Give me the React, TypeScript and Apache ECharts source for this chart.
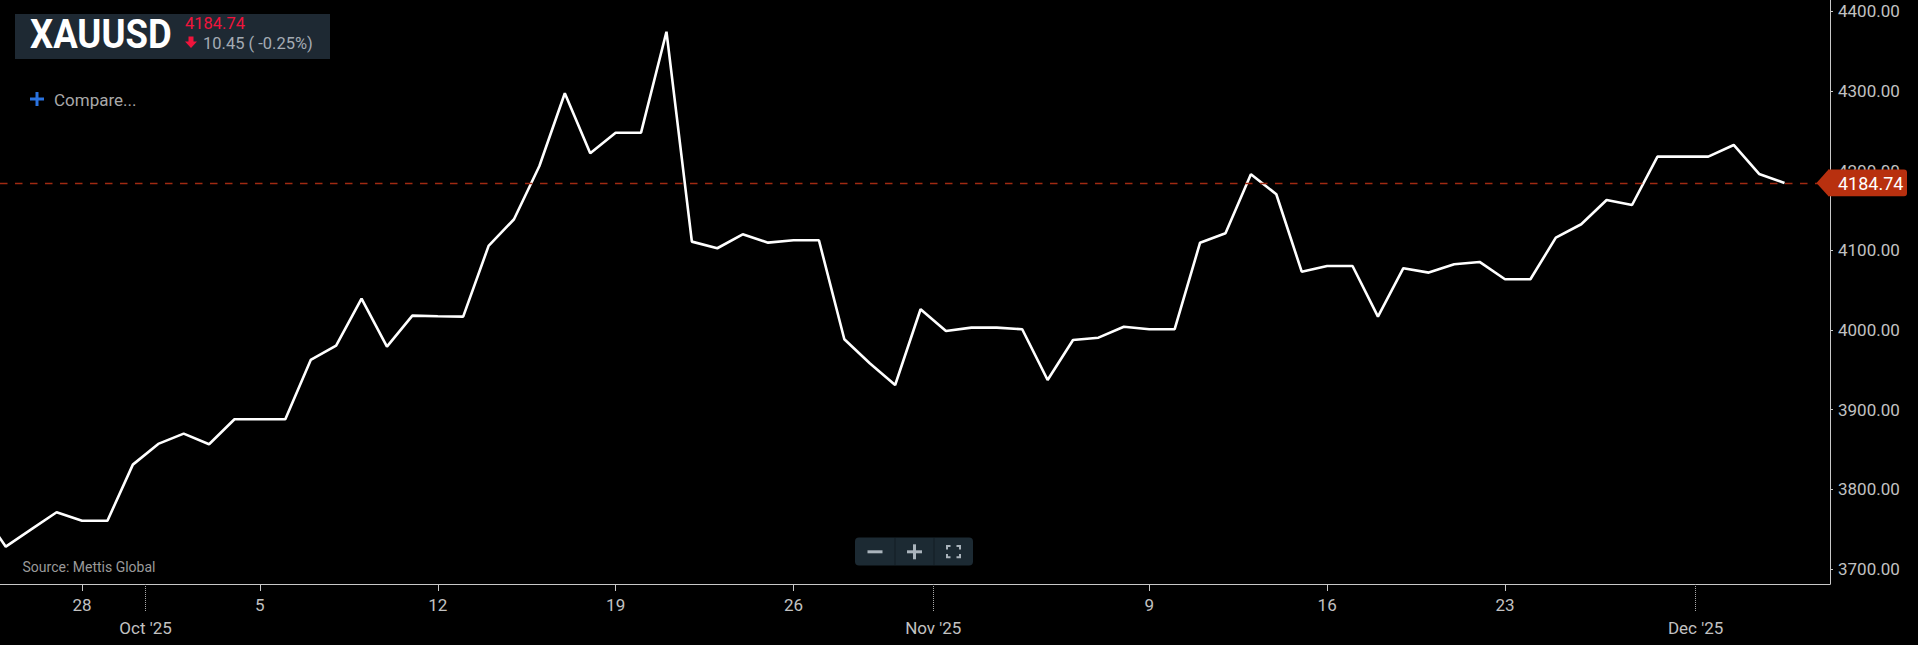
import React, { useEffect, useRef } from "react";
import * as echarts from "echarts";

// ---- data (calendar days; index 0 = 26 Sep 2025, first two points precede it) ----
const FIRST_INDEX = -2;
const closeValues: number[] = [
  3774.1, 3728.0, 3749.6, 3771.2, 3760.6, 3760.6, 3831.0, 3857.0, 3869.9, 3856.6,
  3888.0, 3888.0, 3888.0, 3962.4, 3980.4, 4039.4, 3979.1, 4018.1, 4017.3, 4016.8,
  4105.6, 4139.1, 4206.0, 4297.3, 4222.0, 4247.8, 4247.8, 4374.6, 4111.0, 4102.7,
  4120.2, 4109.7, 4112.7, 4112.7, 3988.4, 3958.3, 3931.0, 4026.1, 3998.8, 4003.0,
  4003.0, 4001.0, 3937.3, 3987.5, 3990.4, 4004.2, 4001.0, 4001.0, 4109.7, 4121.5,
  4195.6, 4170.5, 4073.3, 4080.4, 4080.4, 4016.8, 4077.6, 4072.1, 4082.6, 4085.5,
  4063.7, 4063.7, 4116.0, 4132.8, 4163.3, 4157.0, 4217.7, 4217.7, 4217.7, 4232.4,
  4196.0, 4184.74,
];
const weekTickIdx: number[] = [2, 9, 16, 23, 30, 44, 51, 58];
const weekTickLabels: string[] = ["28", "5", "12", "19", "26", "9", "16", "23"];
const monthMarkIdx: number[] = [4.5, 35.5, 65.5];
const monthLabels: string[] = ["Oct '25", "Nov '25", "Dec '25"];
const yTicks: number[] = [3700, 3800, 3900, 4000, 4100, 4200, 4300, 4400];

const SYMBOL = "XAUUSD";
const LAST_PRICE = "4184.74";
const CHANGE_TEXT = "10.45 ( -0.25%)";
const SOURCE_TEXT = "Source: Mettis Global";

const X_MIN = -1.228;
const X_MAX = 70.79;
const Y_MIN = 3681.1;
const Y_MAX = 4414.4;

const FONT = "Roboto";
const AXIS_COLOR = "#c8c8c8";
const LABEL_COLOR = "#c2c2c2";

export default function App() {
  const ref = useRef<HTMLDivElement>(null);

  useEffect(() => {
    document.body.style.margin = "0";
    document.body.style.background = "#000";
    const chart = echarts.init(ref.current!, null, { renderer: "svg" });
    const seriesData = closeValues.map((v, k) => [k + FIRST_INDEX, v]);
    const lastValue = closeValues[closeValues.length - 1];

    chart.setOption({
      animation: false,
      backgroundColor: "#000",
      grid: { left: 0, top: 0, width: 1830, height: 584 },
      xAxis: [
        {
          type: "value",
          min: X_MIN,
          max: X_MAX,
          position: "bottom",
          axisLine: { show: true, onZero: false, lineStyle: { color: AXIS_COLOR, width: 1 } },
          axisTick: {
            show: true,
            customValues: weekTickIdx,
            length: 7,
            lineStyle: { color: AXIS_COLOR },
          },
          axisLabel: {
            customValues: weekTickIdx,
            formatter: (v: number) => weekTickLabels[weekTickIdx.indexOf(v)] ?? "",
            color: LABEL_COLOR,
            fontSize: 17,
            fontFamily: FONT,
            margin: 12,
          },
          splitLine: { show: false },
        },
        {
          type: "value",
          min: X_MIN,
          max: X_MAX,
          position: "bottom",
          axisLine: { show: false, onZero: false },
          axisTick: {
            show: true,
            customValues: monthMarkIdx,
            length: 27,
            lineStyle: { color: "#a8a8a8", type: "dotted", width: 1 },
          },
          axisLabel: {
            customValues: monthMarkIdx,
            formatter: (v: number) => monthLabels[monthMarkIdx.indexOf(v)] ?? "",
            color: LABEL_COLOR,
            fontSize: 17,
            fontFamily: FONT,
            margin: 35,
          },
          splitLine: { show: false },
        },
      ],
      yAxis: {
        type: "value",
        position: "right",
        min: Y_MIN,
        max: Y_MAX,
        axisLine: { show: true, onZero: false, lineStyle: { color: AXIS_COLOR, width: 1 } },
        axisTick: { show: true, customValues: yTicks, length: 3, lineStyle: { color: AXIS_COLOR } },
        axisLabel: {
          customValues: yTicks,
          formatter: (v: number) => v.toFixed(2),
          color: LABEL_COLOR,
          fontSize: 17,
          fontFamily: FONT,
          margin: 8,
        },
        splitLine: { show: false },
      },
      series: [
        {
          type: "line",
          xAxisIndex: 0,
          data: seriesData,
          symbol: "none",
          showSymbol: false,
          clip: true,
          lineStyle: { color: "#ffffff", width: 2.6 },
          markLine: {
            silent: true,
            symbol: "none",
            label: { show: false },
            lineStyle: { color: "#a02a12", width: 1.3, type: [7.5, 7.5] },
            data: [{ yAxis: lastValue }],
          },
        },
      ],
    });

    const tagY = chart.convertToPixel({ yAxisIndex: 0 } as any, lastValue) as number;

    chart.setOption({
      graphic: [
        // header box
        { type: "rect", z: 100, shape: { x: 15, y: 14, width: 315, height: 45 }, style: { fill: "#1e2933" } },
        {
          type: "text", z: 101, x: 30, y: 33.5, scaleX: 0.89,
          style: { text: SYMBOL, fill: "#ffffff", fontSize: 41, fontWeight: "bold", fontFamily: FONT, align: "left", verticalAlign: "middle" },
        },
        {
          type: "text", z: 101, x: 185, y: 23.5,
          style: { text: LAST_PRICE, fill: "#f0143c", fontSize: 16.5, fontFamily: FONT, align: "left", verticalAlign: "middle" },
        },
        {
          type: "polygon", z: 101,
          shape: { points: [[188.5, 36.5], [193.5, 36.5], [193.5, 41.5], [197, 41.5], [191, 48], [185, 41.5], [188.5, 41.5]] },
          style: { fill: "#f0143c" },
        },
        {
          type: "text", z: 101, x: 203, y: 43,
          style: { text: CHANGE_TEXT, fill: "#a4abb3", fontSize: 16.5, fontFamily: FONT, align: "left", verticalAlign: "middle" },
        },
        // compare
        { type: "rect", z: 101, shape: { x: 30, y: 97.5, width: 14, height: 3 }, style: { fill: "#2a73e0" } },
        { type: "rect", z: 101, shape: { x: 35.5, y: 92, width: 3, height: 14 }, style: { fill: "#2a73e0" } },
        {
          type: "text", z: 101, x: 54, y: 99.5,
          style: { text: "Compare...", fill: "#a9a9a9", fontSize: 17, fontFamily: FONT, align: "left", verticalAlign: "middle" },
        },
        // source
        {
          type: "text", z: 101, x: 22.5, y: 567,
          style: { text: SOURCE_TEXT, fill: "#9a9a9a", fontSize: 14, fontFamily: FONT, align: "left", verticalAlign: "middle" },
        },
        // zoom controls
        { type: "rect", z: 100, shape: { x: 855, y: 537.5, width: 118, height: 28, r: 4 }, style: { fill: "#1c2a33" } },
        { type: "line", z: 101, shape: { x1: 895, y1: 538, x2: 895, y2: 565 }, style: { stroke: "#131d24", lineWidth: 1 } },
        { type: "line", z: 101, shape: { x1: 934, y1: 538, x2: 934, y2: 565 }, style: { stroke: "#131d24", lineWidth: 1 } },
        { type: "rect", z: 101, shape: { x: 867.5, y: 550.3, width: 15, height: 3 }, style: { fill: "#aab4bc" } },
        { type: "rect", z: 101, shape: { x: 907, y: 550.3, width: 15, height: 3 }, style: { fill: "#aab4bc" } },
        { type: "rect", z: 101, shape: { x: 913, y: 544.3, width: 3, height: 15 }, style: { fill: "#aab4bc" } },
        { type: "polyline", z: 101, shape: { points: [[947, 549.5], [947, 546], [950.5, 546]] }, style: { stroke: "#aab4bc", lineWidth: 2, fill: null } },
        { type: "polyline", z: 101, shape: { points: [[956.5, 546], [960, 546], [960, 549.5]] }, style: { stroke: "#aab4bc", lineWidth: 2, fill: null } },
        { type: "polyline", z: 101, shape: { points: [[947, 554], [947, 557.3], [950.5, 557.3]] }, style: { stroke: "#aab4bc", lineWidth: 2, fill: null } },
        { type: "polyline", z: 101, shape: { points: [[956.5, 557.3], [960, 557.3], [960, 554]] }, style: { stroke: "#aab4bc", lineWidth: 2, fill: null } },
        // price tag
        {
          type: "polygon", z: 102,
          shape: { points: [[1816.5, tagY], [1828.5, tagY - 13.3], [1828.5, tagY + 13.3]] },
          style: { fill: "#b8300f" },
        },
        {
          type: "rect", z: 102,
          shape: { x: 1828, y: tagY - 13.3, width: 79, height: 26.6, r: [0, 3, 3, 0] },
          style: { fill: "#b8300f" },
        },
        {
          type: "text", z: 103, x: 1838, y: tagY + 0.5,
          style: { text: LAST_PRICE, fill: "#ffffff", fontSize: 18, fontFamily: FONT, align: "left", verticalAlign: "middle" },
        },
      ],
    });

    return () => chart.dispose();
  }, []);

  return <div ref={ref} style={{ width: 1918, height: 645, background: "#000" }} />;
}
